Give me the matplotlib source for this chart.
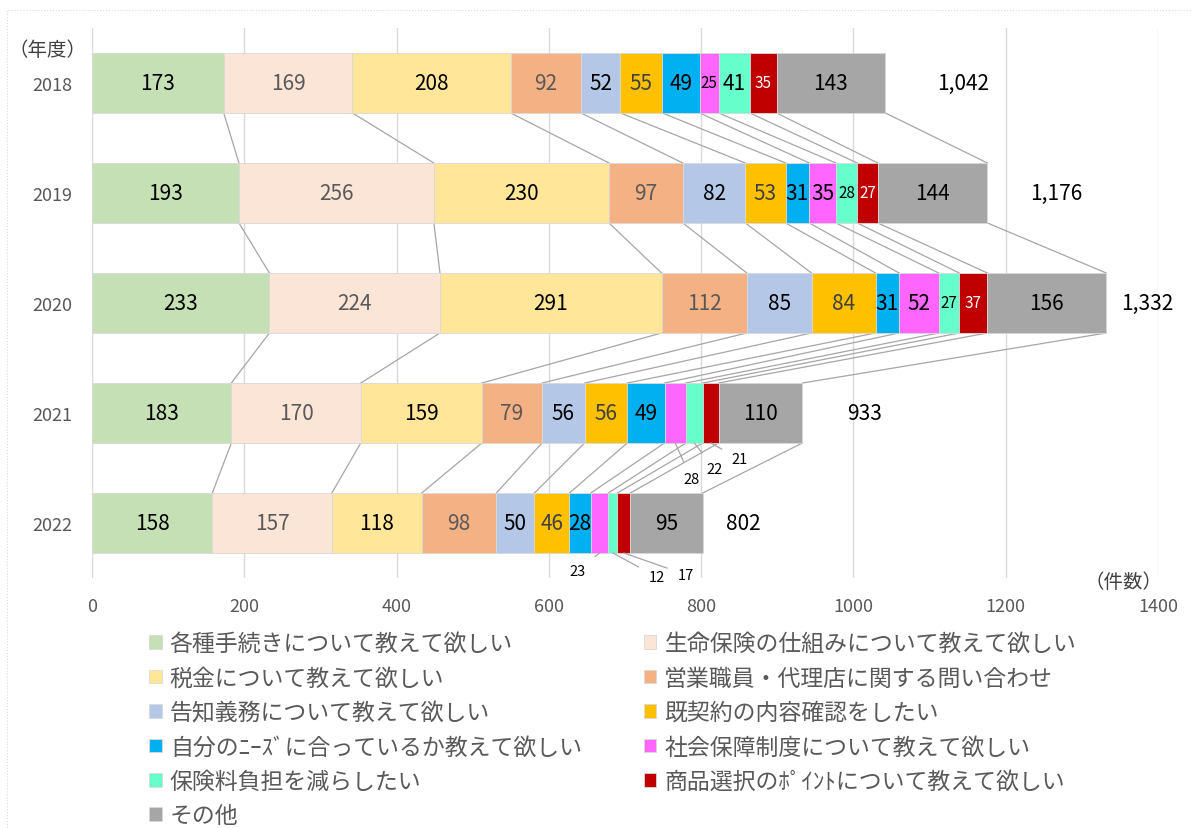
import numpy as np
import matplotlib.pyplot as plt
from matplotlib.patches import Rectangle

plt.rcParams['font.family'] = ['Noto Sans CJK JP', 'DejaVu Sans']

years = ['2018', '2019', '2020', '2021', '2022']
categories = [
    '各種手続きについて教えて欲しい',
    '生命保険の仕組みについて教えて欲しい',
    '税金について教えて欲しい',
    '営業職員・代理店に関する問い合わせ',
    '告知義務について教えて欲しい',
    '既契約の内容確認をしたい',
    '自分のﾆｰｽﾞに合っているか教えて欲しい',
    '社会保障制度について教えて欲しい',
    '保険料負担を減らしたい',
    '商品選択のﾎﾟｲﾝﾄについて教えて欲しい',
    'その他',
]
values = np.array([
    [173, 169, 208, 92, 52, 55, 49, 25, 41, 35, 143],
    [193, 256, 230, 97, 82, 53, 31, 35, 28, 27, 144],
    [233, 224, 291, 112, 85, 84, 31, 52, 27, 37, 156],
    [183, 170, 159, 79, 56, 56, 49, 28, 22, 21, 110],
    [158, 157, 118, 98, 50, 46, 28, 23, 12, 17, 95],
])
totals = values.sum(axis=1)

colors = ['#C5E0B4', '#FBE5D6', '#FFE699', '#F4B183', '#B4C7E7', '#FFC000',
          '#00B0F0', '#FF66FF', '#66FFCC', '#C00000', '#A6A6A6']
label_colors = ['black', '#595959', 'black', '#595959', 'black', '#404040',
                'black', 'black', 'black', 'white', 'black']

# segments labelled outside the bar (year index, category index) -> label position
outside = {
    (3, 7): (787, 3.60), (3, 8): (818, 3.51), (3, 9): (851, 3.42),
    (4, 7): (638, 4.44), (4, 8): (742, 4.49), (4, 9): (780, 4.47),
}
total_offsets = [102, 91, 54, 82, 53]

fig = plt.figure(figsize=(11.92, 8.29), dpi=100)
ax = fig.add_axes([92 / 1192, 1 - 579 / 829, 1066 / 1192, 550 / 829])

h = 0.545
y = np.arange(len(years))
left = np.zeros(len(years))
handles = []
for j, cat in enumerate(categories):
    b = ax.barh(y, values[:, j], left=left, height=h, color=colors[j],
                edgecolor='#D9D9D9', linewidth=0.6, label=cat, zorder=3)
    handles.append(b)
    for i in range(len(years)):
        v = values[i, j]
        cx = left[i] + v / 2
        if (i, j) in outside:
            lx, ly = outside[(i, j)]
            ax.annotate(str(v), xy=(cx, y[i] + h / 2), xytext=(lx, ly),
                        ha='center', va='center', fontsize=10.5, color='black',
                        arrowprops=dict(arrowstyle='-', color='#A6A6A6', lw=0.9,
                                        shrinkA=6, shrinkB=0), zorder=4)
            continue
        small = j == 9 or (j in (7, 8) and v < 30)
        ax.text(cx, y[i], str(v), ha='center', va='center',
                fontsize=11 if small else 15, color=label_colors[j], zorder=4)
    left = left + values[:, j]

# connector lines between consecutive bars
cum = np.cumsum(values, axis=1)
for i in range(len(years) - 1):
    for k in range(cum.shape[1]):
        ax.plot([cum[i, k], cum[i + 1, k]], [y[i] + h / 2, y[i + 1] - h / 2],
                color='#A6A6A6', lw=0.9, zorder=2)

for i, t in enumerate(totals):
    ax.text(t + total_offsets[i], y[i], f'{t:,}', ha='center', va='center',
            fontsize=15, color='black')

ax.set_xlim(0, 1400)
ax.set_ylim(len(years) - 0.5, -0.5)
ax.set_xticks(np.arange(0, 1401, 200))
ax.set_yticks(y)
ax.set_yticklabels(years)
ax.tick_params(axis='both', length=0, labelsize=13, labelcolor='#595959')
ax.tick_params(axis='x', pad=14)
ax.tick_params(axis='y', pad=14)
ax.grid(axis='x', color='#D9D9D9', lw=1, zorder=0)
for s in ax.spines.values():
    s.set_visible(False)

fig.text(47 / 1192, 1 - 50 / 829, '（年度）', ha='center', va='center',
         fontsize=14, color='#404040')
fig.text(1162 / 1192, 1 - 583 / 829, '（件数）', ha='right', va='center',
         fontsize=14, color='#404040')

fig.patches.append(Rectangle((7 / 1192, -0.05), 1.1, 1 - 11 / 829 + 0.05,
                             transform=fig.transFigure, fill=False,
                             edgecolor='#D9D9D9', lw=0.8, ls=':'))

# legend, row-wise order in two columns
order = list(range(0, 11, 2)) + list(range(1, 11, 2))
leg = fig.legend([handles[k] for k in order], [categories[k] for k in order],
                 ncol=2, loc='upper left', bbox_to_anchor=(140 / 1192, 1 - 624 / 829),
                 frameon=False, fontsize=16.5, handlelength=0.55, handleheight=0.55,
                 handletextpad=0.35, labelspacing=0.5, columnspacing=2.7,
                 borderaxespad=0)
for t in leg.get_texts():
    t.set_color('#595959')

fig.savefig('out.png', dpi=100)
